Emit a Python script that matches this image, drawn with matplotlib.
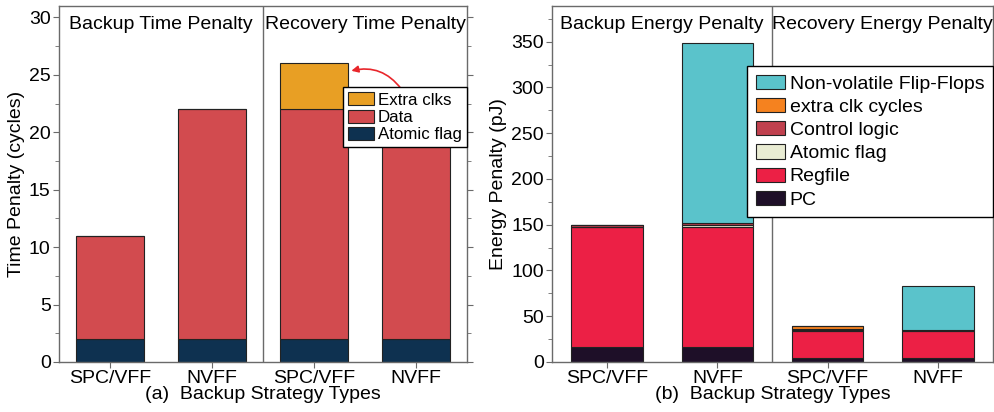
import matplotlib
matplotlib.use("Agg")
import matplotlib.pyplot as plt
import numpy as np
from matplotlib.ticker import MultipleLocator

plt.rcParams['font.family'] = ['Liberation Sans', 'DejaVu Sans']

# ---------------- data ----------------
categories = ["SPC/VFF", "NVFF", "SPC/VFF", "NVFF"]

# (a) time penalty (cycles)
time_atomic = [2, 2, 2, 2]
time_data = [9, 20, 20, 20]
time_extra = [0, 0, 4, 0]

# (b) energy penalty (pJ)
en_pc = [16, 16, 4, 4]
en_regfile = [131, 131, 30, 30]
en_atomic = [0.5, 3, 0.5, 0.5]
en_control = [2.5, 2, 2, 1]
en_extra = [0, 0, 3, 0]
en_nvff = [0, 197, 0, 47]

section_a = ["Backup Time Penalty", "Recovery Time Penalty"]
section_b = ["Backup Energy Penalty", "Recovery Energy Penalty"]

# ---------------- figure ----------------
fig = plt.figure(figsize=(9.95, 4.12), dpi=100)
axa = fig.add_axes([59/995, 1-362/412, 408/995, 356/412])
axb = fig.add_axes([552/995, 1-362/412, 441/995, 356/412])

FS = 14
spine_c = '#6a6a6a'
edge_c = '#222222'
x = np.arange(len(categories))


def style_axes(ax):
    for s in ax.spines.values():
        s.set_color(spine_c)
        s.set_linewidth(1.0)
    ax.tick_params(axis='y', which='both', direction='out', left=True, right=True,
                   labelleft=True, color=spine_c, labelsize=FS, pad=2)
    ax.tick_params(axis='y', which='major', length=4)
    ax.tick_params(axis='y', which='minor', length=3)
    ax.tick_params(axis='x', which='major', direction='out', length=4, color=spine_c,
                   labelsize=FS, pad=2)
    ax.set_xticks(x)
    ax.set_xticklabels(categories)
    ax.set_xlim(-0.5, 3.5)
    ax.axvline(1.5, color=spine_c, lw=1.0)


# ---- (a) ----
wa = 0.66
c_atomic_a = '#0e3150'
c_data = '#d24b4f'
c_extra_a = '#e89f24'
b1 = axa.bar(x, time_atomic, wa, color=c_atomic_a, edgecolor=edge_c, lw=0.8, label='Atomic flag')
b2 = axa.bar(x, time_data, wa, bottom=time_atomic, color=c_data, edgecolor=edge_c, lw=0.8, label='Data')
bot = np.array(time_atomic) + np.array(time_data)
b3 = axa.bar(x, time_extra, wa, bottom=bot, color=c_extra_a, edgecolor=edge_c, lw=0.8, label='Extra clks')
axa.set_ylim(0, 31)
axa.yaxis.set_major_locator(MultipleLocator(5))
axa.yaxis.set_minor_locator(MultipleLocator(2.5))
style_axes(axa)
axa.set_ylabel('Time Penalty (cycles)', fontsize=FS, labelpad=3)
axa.set_xlabel('(a)  Backup Strategy Types', fontsize=FS, labelpad=-1)
axa.text(0.5, 29.4, section_a[0], ha='center', va='center', fontsize=FS)
axa.text(2.5, 29.4, section_a[1], ha='center', va='center', fontsize=FS)
lega = axa.legend(handles=[b3, b2, b1], loc='upper right', bbox_to_anchor=(1.0, 0.772),
                  borderaxespad=0, fontsize=FS*0.87, frameon=True, fancybox=False,
                  edgecolor='black', framealpha=1, handlelength=1.5, handleheight=0.8,
                  handletextpad=0.25, labelspacing=0.12, borderpad=0.3)
lega.get_frame().set_linewidth(1.0)
axa.annotate('', xy=(2.34, 25.3), xytext=(2.87, 23.6),
             arrowprops=dict(arrowstyle='-|>', color='#e8262b', lw=1.2,
                             connectionstyle='arc3,rad=0.35', mutation_scale=10),
             zorder=5)

# ---- (b) ----
wb = 0.65
c_pc = '#1e0f28'
c_reg = '#ec2045'
c_atomic_b = '#e9ecd3'
c_ctrl = '#c0404e'
c_extra_b = '#f5821f'
c_nvff = '#5ac3cb'
layers = [(en_pc, c_pc, 'PC'), (en_regfile, c_reg, 'Regfile'), (en_atomic, c_atomic_b, 'Atomic flag'),
          (en_control, c_ctrl, 'Control logic'), (en_extra, c_extra_b, 'extra clk cycles'),
          (en_nvff, c_nvff, 'Non-volatile Flip-Flops')]
bottom = np.zeros(len(categories))
handles = []
for vals, col, lab in layers:
    h = axb.bar(x, vals, wb, bottom=bottom, color=col, edgecolor=edge_c, lw=0.8, label=lab)
    handles.append(h)
    bottom = bottom + np.array(vals)
axb.set_ylim(0, 389)
axb.yaxis.set_major_locator(MultipleLocator(50))
axb.yaxis.set_minor_locator(MultipleLocator(25))
style_axes(axb)
axb.set_ylabel('Energy Penalty (pJ)', fontsize=FS, labelpad=3)
axb.set_xlabel('(b)  Backup Strategy Types', fontsize=FS, labelpad=-1)
axb.text(0.5, 369, section_b[0], ha='center', va='center', fontsize=FS)
axb.text(2.5, 369, section_b[1], ha='center', va='center', fontsize=FS)
legb = axb.legend(handles=handles[::-1], loc='upper right', bbox_to_anchor=(1.0, 0.831),
                  borderaxespad=0, fontsize=FS, frameon=True, fancybox=False,
                  edgecolor='black', framealpha=1, handlelength=1.5, handleheight=0.75,
                  handletextpad=0.25, labelspacing=0.27, borderpad=0.45)
legb.get_frame().set_linewidth(1.0)

fig.savefig('out.png', dpi=100)
